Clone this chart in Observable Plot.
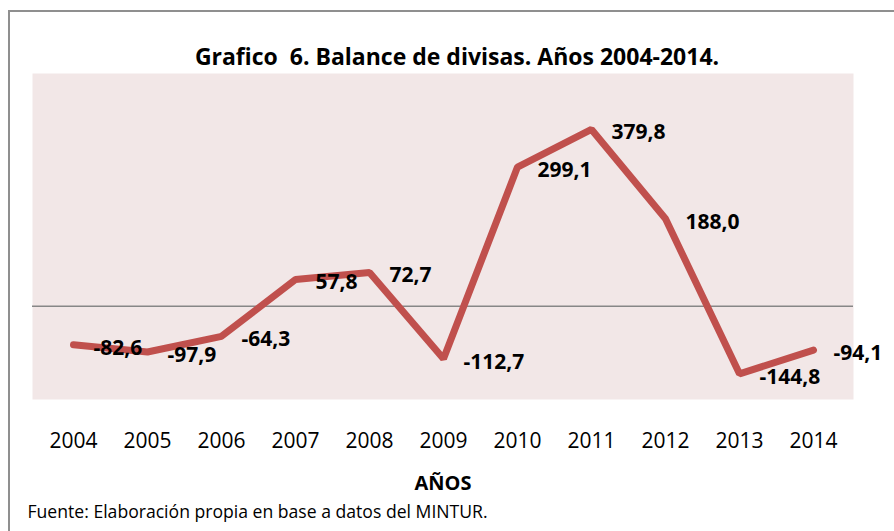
<!DOCTYPE html>
<html>
<head>
<meta charset="utf-8">
<script src="https://cdn.jsdelivr.net/npm/d3@7"></script>
<script src="https://cdn.jsdelivr.net/npm/@observablehq/plot@0.6"></script>
<style>
  html, body { margin: 0; padding: 0; background: #fff; }
  #wrap { position: relative; width: 894px; height: 531px; overflow: hidden; }
  #border { position: absolute; left: 8px; top: 10px; right: -4px; bottom: -4px;
            border-top: 2px solid #8f8f8f; border-left: 2px solid #8f8f8f; pointer-events: none; }
  svg { display: block; }
</style>
</head>
<body>
<div id="wrap"><div id="border"></div></div>
<script>
const years = [2004, 2005, 2006, 2007, 2008, 2009, 2010, 2011, 2012, 2013, 2014];
const balance = [-82.6, -97.9, -64.3, 57.8, 72.7, -112.7, 299.1, 379.8, 188.0, -144.8, -94.1];
const titleText = "Grafico  6. Balance de divisas. Años 2004-2014.";
const xLabel = "AÑOS";
const sourceText = "Fuente: Elaboración propia en base a datos del MINTUR.";

const data = years.map((year, i) => ({year, value: balance[i]}));
const fmt = v => v.toFixed(1).replace(".", ",");
const font = "'Open Sans', sans-serif";

const chart = Plot.plot({
  width: 894,
  height: 531,
  marginTop: 73,
  marginBottom: 132,
  marginLeft: 32,
  marginRight: 41,
  style: {fontFamily: font, color: "black", background: "transparent", overflow: "visible"},
  x: {type: "point", domain: years, padding: 0.5, tickFormat: d => String(d)},
  y: {domain: [-200, 500], axis: null},
  marks: [
    Plot.frame({fill: "#F2E7E7", stroke: "none"}),
    Plot.ruleY([0], {stroke: "#878787", strokeWidth: 1.5}),
    Plot.axisX({tickSize: 0, tickPadding: 34, fontSize: 21, label: null, fontFamily: font,
      tickFormat: d => String(d)}),
    Plot.line(data, {x: "year", y: "value", stroke: "#C0504D", strokeWidth: 7,
      strokeLinecap: "round", strokeLinejoin: "miter"}),
    Plot.text(data, {x: "year", y: "value", text: d => fmt(d.value), textAnchor: "start",
      dx: 20, dy: 3, fontSize: 21, fontWeight: "bold", fill: "black", fontFamily: font}),
    Plot.text([titleText], {frameAnchor: "top", dx: 14, dy: -25, fontSize: 23,
      fontWeight: "bold", fill: "black", fontFamily: font}),
    Plot.text([xLabel], {frameAnchor: "bottom", dy: 90.6, fontSize: 20,
      fontWeight: "bold", fill: "black", fontFamily: font}),
    Plot.text([sourceText], {frameAnchor: "bottom-left", textAnchor: "start", dx: -5, dy: 118.5,
      fontSize: 17.6, fill: "black", fontFamily: font})
  ]
});
document.getElementById("wrap").prepend(chart);
</script>
</body>
</html>
